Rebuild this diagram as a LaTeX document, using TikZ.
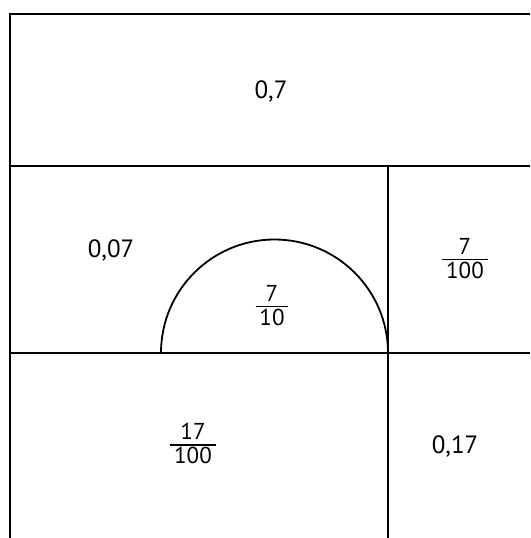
\documentclass[tikz,border=0pt]{standalone}
\usepackage{fontspec}
\setmainfont{PT Sans}
\tikzset{
  bordo/.style   = {line width=2.6pt},
  linea/.style   = {line width=1.8pt},
  valore/.style  = {font=\fontsize{25}{29}\selectfont, inner sep=0pt},
  frazione/.style = {font=\fontsize{23}{26}\selectfont, inner sep=0pt}
}
\newcommand{\fraz}[2]{{\setlength{\arrayrulewidth}{1.2pt}\renewcommand{\arraystretch}{0.85}%
  \begin{tabular}{@{\,}c@{\,}}#1\\[-2pt]\hline\noalign{\vskip 2pt}#2\end{tabular}}}

\begin{document}
\begin{tikzpicture}[x=1pt, y=-1pt]
  \useasboundingbox (0,0) rectangle (530,538);

  % angoli e punti della griglia
  \coordinate (tl) at (10,14);
  \coordinate (tr) at (530,14);
  \coordinate (bl) at (10,538);
  \coordinate (m1l) at (10,166);
  \coordinate (m1r) at (530,166);
  \coordinate (m2l) at (10,353);
  \coordinate (m2r) at (530,353);
  \coordinate (vt) at (388,166);
  \coordinate (vb) at (388,538);
  \coordinate (ar) at (161,353);

  % cornice e divisioni
  \draw[bordo] (bl) -- (tl) -- (tr);
  \draw[linea] (m1l) -- (m1r);
  \draw[linea] (m2l) -- (m2r);
  \draw[linea] (vt) -- (vb);

  % semicerchio
  \draw[linea] (ar) arc[start angle=180, end angle=360, radius=113.5];

  % valori
  \node[valore]   (a) at (271,91)  {0,7};
  \node[valore]   (b) at (111,250) {0,07};
  \node[frazione] (c) at (465,262) {\fraz{7}{100}};
  \node[frazione] (d) at (272,309) {\fraz{7}{10}};
  \node[frazione] (e) at (193,447) {\fraz{17}{100}};
  \node[valore]   (f) at (455,446) {0,17};

\end{tikzpicture}
\end{document}
